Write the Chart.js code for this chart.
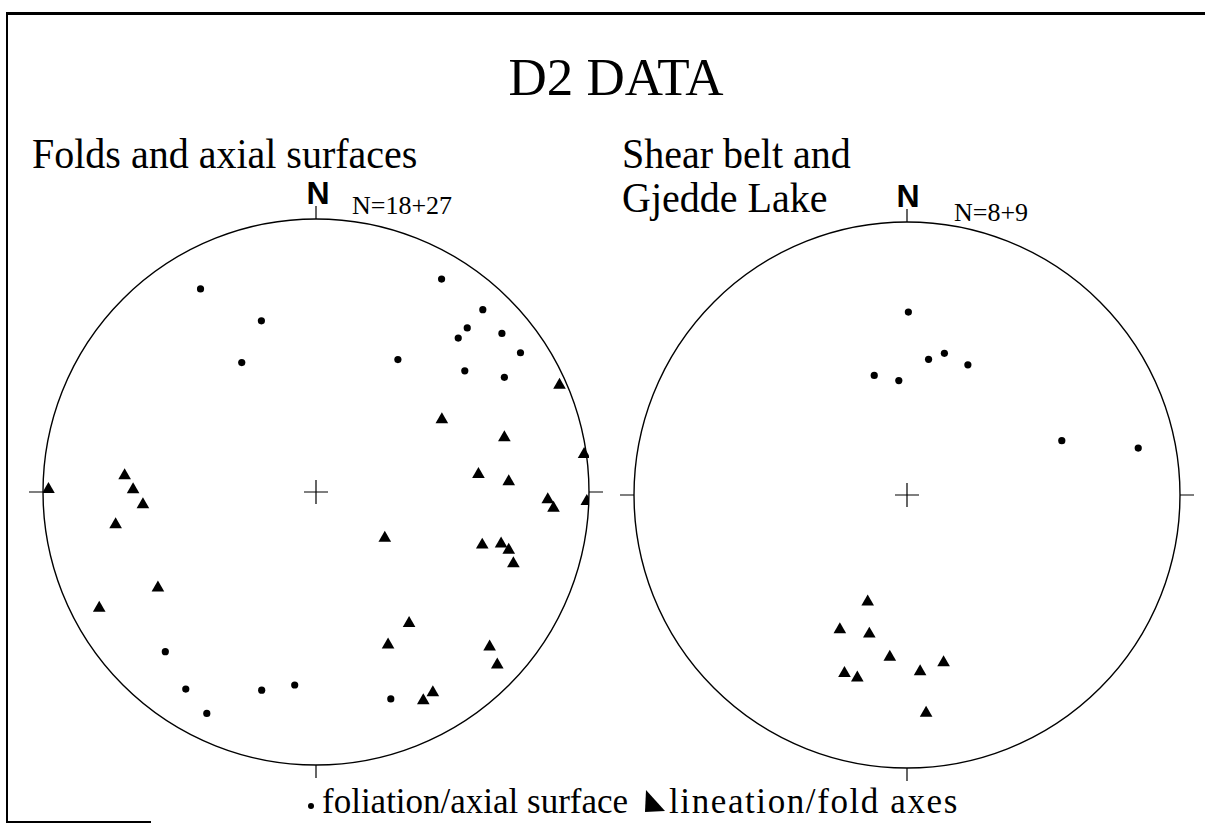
<!DOCTYPE html>
<html>
<head>
<meta charset="utf-8">
<script src="https://cdn.jsdelivr.net/npm/chart.js@4.4.1/dist/chart.umd.min.js"></script>
<style>
  html, body { margin: 0; padding: 0; background: #fff; }
  body { width: 1205px; height: 826px; position: relative; overflow: hidden; }
  .t { position: absolute; white-space: nowrap; line-height: 1; color: #000; }
  .serif { font-family: "Liberation Serif", "Times New Roman", serif; }
  .sans { font-family: "Liberation Sans", Arial, sans-serif; font-weight: bold; }
  .cond { transform: scaleX(0.93); transform-origin: 0 0; }
  .rule { position: absolute; background: #000; }
  canvas { position: absolute; }
</style>
</head>
<body>
<div class="rule" style="left:6px;top:12px;width:1199px;height:3px;"></div>
<div class="rule" style="left:6px;top:12px;width:2px;height:811px;"></div>
<div class="rule" style="left:6px;top:821px;width:145px;height:2px;"></div>

<div class="t serif" style="font-size:53px;left:616px;top:51px;transform:translateX(-50%);">D2 DATA</div>
<div class="t serif cond" style="font-size:43px;left:32px;top:132px;">Folds and axial surfaces</div>
<div class="t serif cond" style="font-size:43px;left:622px;top:132px;">Shear belt and</div>
<div class="t serif cond" style="font-size:43px;left:622px;top:176px;">Gjedde Lake</div>
<div class="t sans" style="font-size:32px;left:318px;top:177px;transform:translateX(-50%);">N</div>
<div class="t sans" style="font-size:32px;left:908px;top:180px;transform:translateX(-50%);">N</div>
<div class="t serif" style="font-size:26px;left:352px;top:193px;">N=18+27</div>
<div class="t serif" style="font-size:26px;left:954px;top:200px;">N=8+9</div>

<div style="position:absolute;left:308px;top:803px;width:6px;height:6px;border-radius:50%;background:#000;"></div>
<div class="t serif" style="font-size:35px;left:322px;top:784px;">foliation/axial surface</div>
<svg style="position:absolute;left:641px;top:788px;" width="26" height="26"><polygon points="5,2 4,24 24,23" fill="#000"/></svg>
<div class="t serif" style="font-size:35px;left:669px;top:784px;letter-spacing:1.6px;">lineation/fold axes</div>

<canvas id="left" width="586" height="586" style="left:23px;top:199px;width:586px;height:586px;"></canvas>
<canvas id="right" width="586" height="586" style="left:614px;top:202px;width:586px;height:586px;"></canvas>

<script>
// Coordinates in net units (east, north), fraction of primitive-circle radius.
const leftFoliation = [
  [-0.423, 0.744], [-0.200, 0.627], [-0.272, 0.474], [0.460, 0.780],
  [0.611, 0.668], [0.554, 0.601], [0.521, 0.564], [0.681, 0.581],
  [0.749, 0.510], [0.300, 0.485], [0.545, 0.444], [0.690, 0.420],
  [-0.552, -0.585], [-0.477, -0.722], [-0.400, -0.811], [-0.199, -0.726],
  [-0.078, -0.707], [0.274, -0.758]
];
const leftLineation = [
  [-0.980, 0.010], [-0.701, 0.060], [-0.670, 0.009], [-0.634, -0.046],
  [-0.734, -0.119], [-0.579, -0.351], [-0.794, -0.425], [0.892, 0.392],
  [0.461, 0.265], [0.690, 0.199], [0.982, 0.138], [0.595, 0.065],
  [0.706, 0.038], [0.849, -0.028], [0.870, -0.059], [0.992, -0.034],
  [0.252, -0.169], [0.609, -0.194], [0.678, -0.190], [0.706, -0.213],
  [0.723, -0.262], [0.341, -0.481], [0.264, -0.560], [0.636, -0.567],
  [0.664, -0.633], [0.428, -0.735], [0.393, -0.764]
];
const rightFoliation = [
  [0.005, 0.670], [-0.120, 0.438], [-0.030, 0.419], [0.079, 0.497],
  [0.137, 0.519], [0.223, 0.477], [0.567, 0.199], [0.847, 0.172]
];
const rightLineation = [
  [-0.144, -0.391], [-0.246, -0.493], [-0.138, -0.509], [-0.063, -0.594],
  [-0.229, -0.653], [-0.182, -0.670], [0.134, -0.614], [0.048, -0.647],
  [0.070, -0.799]
];

const netPlugin = {
  id: 'net',
  beforeDatasetsDraw(chart) {
    const { ctx, scales } = chart;
    const cx = scales.x.getPixelForValue(0);
    const cy = scales.y.getPixelForValue(0);
    const r = scales.x.getPixelForValue(1) - cx;
    ctx.save();
    ctx.strokeStyle = '#000';
    ctx.lineWidth = 1.4;
    ctx.beginPath();
    ctx.arc(cx, cy, r, 0, Math.PI * 2);
    ctx.stroke();
    ctx.lineWidth = 1.2;
    ctx.beginPath();
    ctx.moveTo(cx, cy - r); ctx.lineTo(cx, cy - r - 13);
    ctx.moveTo(cx + r, cy); ctx.lineTo(cx + r + 14, cy);
    ctx.moveTo(cx, cy + r); ctx.lineTo(cx, cy + r + 13);
    ctx.moveTo(cx - r, cy); ctx.lineTo(cx - r - 14, cy);
    ctx.moveTo(cx - 12, cy); ctx.lineTo(cx + 12, cy);
    ctx.moveTo(cx, cy - 12); ctx.lineTo(cx, cy + 12);
    ctx.stroke();
    ctx.restore();
  }
};

function toPts(arr) { return arr.map(p => ({ x: p[0], y: p[1] })); }

function makeNet(id, fol, lin) {
  return new Chart(document.getElementById(id), {
    type: 'scatter',
    data: {
      datasets: [
        { label: 'foliation/axial surface', data: toPts(fol), pointStyle: 'circle',
          pointRadius: 3.6, backgroundColor: '#000', borderColor: '#000', borderWidth: 0 },
        { label: 'lineation/fold axes', data: toPts(lin), pointStyle: 'triangle',
          pointRadius: 7.3, backgroundColor: '#000', borderColor: '#000', borderWidth: 0 }
      ]
    },
    options: {
      responsive: false,
      animation: false,
      devicePixelRatio: 1,
      layout: { padding: 20 },
      plugins: { legend: { display: false }, tooltip: { enabled: false } },
      events: [],
      scales: {
        x: { type: 'linear', min: -1, max: 1, display: false },
        y: { type: 'linear', min: -1, max: 1, display: false }
      }
    },
    plugins: [netPlugin]
  });
}

makeNet('left', leftFoliation, leftLineation);
makeNet('right', rightFoliation, rightLineation);
</script>
</body>
</html>
